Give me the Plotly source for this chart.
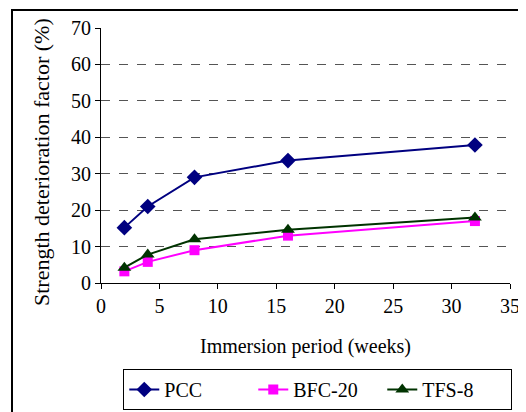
import plotly.graph_objects as go

weeks = [2, 4, 8, 16, 32]
pcc = [15.2, 21.0, 29.0, 33.6, 37.9]
bfc20 = [3.2, 5.8, 9.0, 13.0, 17.0]
tfs8 = [4.2, 7.8, 12.0, 14.6, 18.0]

_FONT = "Liberation Serif"

series = [
    ("PCC", pcc, "#000080", "diamond", 12),
    ("BFC-20", bfc20, "#FF00FF", "square", 10),
    ("TFS-8", tfs8, "#003300", "triangle-up", 12),
]

fig = go.Figure()
for name, ys, color, symbol, size in series:
    fig.add_trace(
        go.Scatter(
            x=weeks,
            y=ys,
            name=name,
            mode="lines+markers",
            line=dict(color=color, width=2),
            marker=dict(symbol=symbol, size=size, color=color),
        )
    )

# the page body adds an 8px margin, so the figure is 8px smaller than the window
fig.update_layout(
    width=518,
    height=404,
    paper_bgcolor="white",
    plot_bgcolor="white",
    font=dict(family=_FONT, size=20, color="black"),
    margin=dict(l=93, r=16, t=20, b=129, autoexpand=False),
    showlegend=True,
    legend=dict(
        orientation="h",
        x=0.53,
        xanchor="center",
        y=-0.337,
        yanchor="top",
        bordercolor="black",
        borderwidth=1,
        font=dict(family=_FONT, size=20),
        entrywidth=84,
    ),
    xaxis=dict(
        range=[0, 35],
        dtick=5,
        showgrid=False,
        showline=True,
        linecolor="black",
        linewidth=1,
        ticks="outside",
        ticklen=5,
        tickcolor="black",
        tickfont=dict(family=_FONT, size=20),
        zeroline=False,
        automargin=False,
        title=dict(text="Immersion period (weeks)", standoff=22, font=dict(family=_FONT, size=20)),
    ),
    yaxis=dict(
        range=[0, 70],
        dtick=10,
        showgrid=True,
        gridcolor="#555555",
        griddash="dash",
        gridwidth=1,
        showline=True,
        linecolor="black",
        linewidth=1,
        ticks="outside",
        ticklen=5,
        tickcolor="black",
        tickfont=dict(family=_FONT, size=20),
        zeroline=False,
        automargin=False,
    ),
)

# y title as annotation so it can sit slightly below the plot centre like the original
fig.add_annotation(
    text="Strength deterioration factor (%)",
    xref="paper",
    yref="paper",
    x=-0.1467,
    y=0.4745,
    xanchor="center",
    yanchor="middle",
    textangle=-90,
    showarrow=False,
    font=dict(family=_FONT, size=22),
)

# outer chart frame
fig.add_shape(
    type="rect",
    xref="paper",
    yref="paper",
    x0=-0.2176,
    x1=1.0293,
    y0=-0.53,
    y1=1.0706,
    line=dict(color="black", width=2),
    layer="below",
)

fig.write_html("out.html")
